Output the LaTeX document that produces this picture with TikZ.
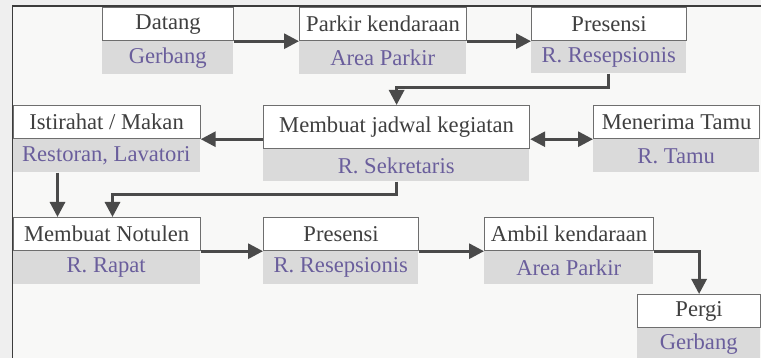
\documentclass[tikz,border=0pt]{standalone}
\usepackage{fontspec}
\setmainfont{Liberation Serif}
\usetikzlibrary{arrows.meta,calc}
\definecolor{frameline}{HTML}{3C3C3C}
\definecolor{boxline}{HTML}{6E6E6E}
\definecolor{placefill}{HTML}{DADADA}
\definecolor{placetext}{HTML}{6A5E9C}
\definecolor{tasktext}{HTML}{3F3F3F}
\definecolor{flow}{HTML}{4A4A4A}
\definecolor{pagebg}{HTML}{EFEFEF}
\definecolor{panelbg}{HTML}{F8F8F7}
\tikzset{
  task/.style={draw=boxline, line width=1.2pt, fill=white, text=tasktext,
    anchor=north west, inner sep=0pt, font=\fontsize{22.6}{25}\selectfont},
  place/.style={fill=placefill, text=placetext, anchor=north west,
    inner sep=0pt, font=\fontsize{22.6}{25}\selectfont},
  flowarrow/.style={draw=flow, line width=3pt,
    -{Triangle[length=15pt,width=15pt]}},
  flowboth/.style={draw=flow, line width=3pt,
    {Triangle[length=15pt,width=15pt]}-{Triangle[length=15pt,width=15pt]}}
}
\begin{document}
\begin{tikzpicture}[x=1pt,y=-1pt]
  % page and framed panel
  \fill[pagebg] (0,0) rectangle (761,358);
  \useasboundingbox (0,0) rectangle (761,358);
  \fill[panelbg] (12.5,6) rectangle (761,358);
  \draw[frameline, line width=1.5pt] (12.5,358) -- (12.5,6) -- (761,6);

  % row 1
  \node[task, minimum width=131pt, minimum height=33pt] (t1) at (102,7) {Datang};
  \node[place, minimum width=131pt, minimum height=33pt] (b1) at (t1.south west) {Gerbang};
  \node[task, minimum width=167pt, minimum height=33pt] (t2) at (299,7) {Parkir kendaraan};
  \node[place, minimum width=167pt, minimum height=33pt] (b2) at (t2.south west) {Area Parkir};
  \node[task, minimum width=155pt, minimum height=33pt] (t3) at (531,7) {Presensi};
  \node[place, minimum width=155pt, minimum height=32pt] (b3) at (t3.south west) {R. Resepsionis};

  % row 2
  \node[task, minimum width=187pt, minimum height=33pt] (t4) at (12.5,105) {Istirahat / Makan};
  \node[place, minimum width=187pt, minimum height=33pt] (b4) at (t4.south west) {Restoran, Lavatori};
  \node[task, minimum width=266pt, minimum height=43pt] (t5) at (263,105) {Membuat jadwal kegiatan};
  \node[place, minimum width=266pt, minimum height=32pt] (b5) at (t5.south west) {R. Sekretaris};
  \node[task, minimum width=166pt, minimum height=33pt] (t6) at (593,105) {Menerima Tamu};
  \node[place, minimum width=166pt, minimum height=33pt] (b6) at (t6.south west) {R. Tamu};

  % row 3
  \node[task, minimum width=187pt, minimum height=33pt] (t7) at (12.5,217) {Membuat Notulen};
  \node[place, minimum width=187pt, minimum height=33pt] (b7) at (t7.south west) {R. Rapat};
  \node[task, minimum width=155pt, minimum height=33pt] (t8) at (263,217) {Presensi};
  \node[place, minimum width=155pt, minimum height=33pt] (b8) at (t8.south west) {R. Resepsionis};
  \node[task, minimum width=169pt, minimum height=33pt] (t9) at (484,217) {Ambil kendaraan};
  \node[place, minimum width=169pt, minimum height=33pt] (b9) at (t9.south west) {Area Parkir};
  \node[task, minimum width=123pt, minimum height=33pt] (t10) at (637,294) {Pergi};
  \node[place, minimum width=123pt, minimum height=31pt] (b10) at (t10.south west) {Gerbang};

  % drop points on the top edge of the notes box
  \coordinate (n1) at ($(t7.north west)+(45,0)$);
  \coordinate (n2) at ($(t7.north west)+(100,0)$);

  % flow
  \draw[flowarrow] (t1.south east) -- (t2.south west);
  \draw[flowarrow] (t2.south east) -- (t3.south west);
  \draw[flowarrow] (b3.south) -- ++(0,14) -| (t5.north);
  \draw[flowarrow] (t5.west |- t4.south east) -- (t4.south east);
  \draw[flowboth] (t5.east |- t6.south west) -- (t6.south west);
  \draw[flowarrow] (b4.south west -| n1) -- (n1);
  \draw[flowarrow] (b5.south) -- ++(0,13) -| (n2);
  \draw[flowarrow] (t7.south east) -- (t8.south west);
  \draw[flowarrow] (t8.south east) -- (t9.south west);
  \draw[flowarrow] (t9.south east) -| (t10.north);
\end{tikzpicture}
\end{document}
